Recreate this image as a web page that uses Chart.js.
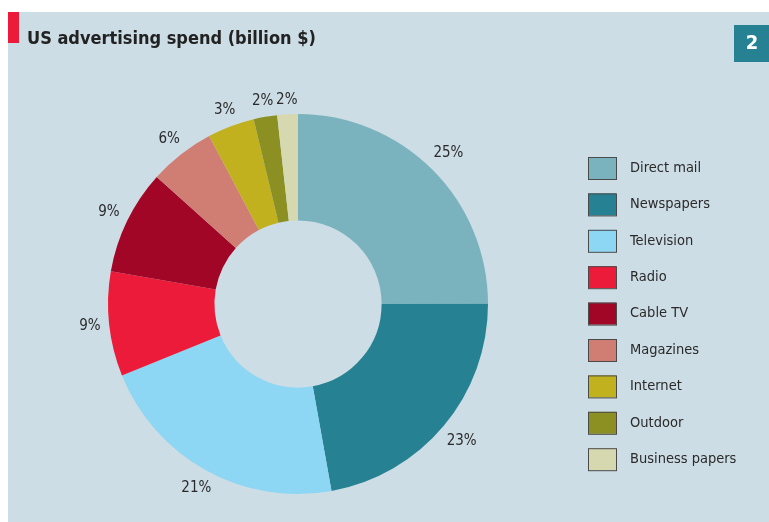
<!DOCTYPE html>
<html><head><meta charset="utf-8">
<script src="https://cdn.jsdelivr.net/npm/chart.js@4/dist/chart.umd.min.js"></script>
<style>html,body{margin:0;padding:0;background:#fff}#wrap{width:769px;height:522px;position:relative}</style>
</head><body><div id="wrap"><canvas id="c" width="769" height="522"></canvas></div>
<script>
const categories = ["Direct mail","Newspapers","Television","Radio","Cable TV","Magazines","Internet","Outdoor","Business papers"];
const shares = [25, 22.2, 21.7, 8.9, 8.9, 5.6, 4.0, 2.0, 1.75];
const shareLabels = ["25%","23%","21%","9%","9%","6%","3%","2%","2%"];
const colors = ["#7ab3be","#268293","#8dd6f4","#ed1b3a","#a10626","#d07d74","#c1b11e","#8c9023","#d6d8b0"];
const titleText = "US advertising spend (billion $)";
const badgeText = "2";

const FONT = '"DejaVu Sans Condensed","DejaVu Sans",sans-serif';

const decor = {
  id:'decor',
  beforeDraw(chart){
    const ctx = chart.ctx;
    ctx.save();
    ctx.fillStyle = '#fff';
    ctx.fillRect(0,0,chart.width,chart.height);
    ctx.fillStyle = '#cddde5';
    ctx.fillRect(8,12,chart.width-8,chart.height-12);
    ctx.fillStyle = '#ed1b3a';
    ctx.fillRect(8,12,11,31);
    ctx.fillStyle = '#222';
    ctx.font = 'bold 18px ' + FONT;
    ctx.textBaseline = 'alphabetic';
    ctx.textAlign = 'left';
    ctx.fillText(titleText, 27, 44);
    ctx.fillStyle = '#268293';
    ctx.fillRect(734,25,35,37);
    ctx.fillStyle = '#fff';
    ctx.font = 'bold 20px ' + FONT;
    ctx.textAlign = 'center';
    ctx.textBaseline = 'middle';
    ctx.fillText(badgeText, 752, 44);
    ctx.restore();
  },
  afterDraw(chart){
    const ctx = chart.ctx;
    const meta = chart.getDatasetMeta(0);
    ctx.save();
    ctx.fillStyle = '#2a2a2a';
    ctx.font = '15px ' + FONT;
    ctx.textAlign = 'center';
    ctx.textBaseline = 'middle';
    meta.data.forEach((arc,i)=>{
      const p = arc.getProps(['x','y','startAngle','endAngle','outerRadius'],true);
      const mid = (p.startAngle+p.endAngle)/2;
      const ux = Math.cos(mid), uy = Math.sin(mid);
      const hw = ctx.measureText(shareLabels[i]).width/2, hh = 6;
      const r = p.outerRadius + 8 + hw*Math.abs(ux) + hh*Math.abs(uy);
      ctx.fillText(shareLabels[i], p.x + ux*r, p.y + uy*r);
    });
    // legend
    const lx = 588, ly0 = 157, step = 36.4;
    chart.data.labels.forEach((lab,i)=>{
      const y = ly0 + i*step;
      ctx.fillStyle = colors[i];
      ctx.fillRect(lx, y, 28, 22);
      ctx.strokeStyle = '#4a4a4a';
      ctx.lineWidth = 1;
      ctx.strokeRect(lx+0.5, y+0.5, 28, 22);
      ctx.fillStyle = '#2a2a2a';
      ctx.font = '14.5px ' + FONT;
      ctx.textAlign = 'left';
      ctx.textBaseline = 'middle';
      ctx.fillText(lab, 630, y+11);
    });
    ctx.restore();
  }
};

new Chart(document.getElementById('c'), {
  type:'doughnut',
  data:{labels:categories, datasets:[{data:shares, backgroundColor:colors, borderWidth:0}]},
  options:{
    responsive:false, animation:false, cutout:'44%',
    layout:{padding:{left:108, right:281, top:114, bottom:28}},
    plugins:{legend:{display:false}, tooltip:{enabled:false}}
  },
  plugins:[decor]
});
</script></body></html>
